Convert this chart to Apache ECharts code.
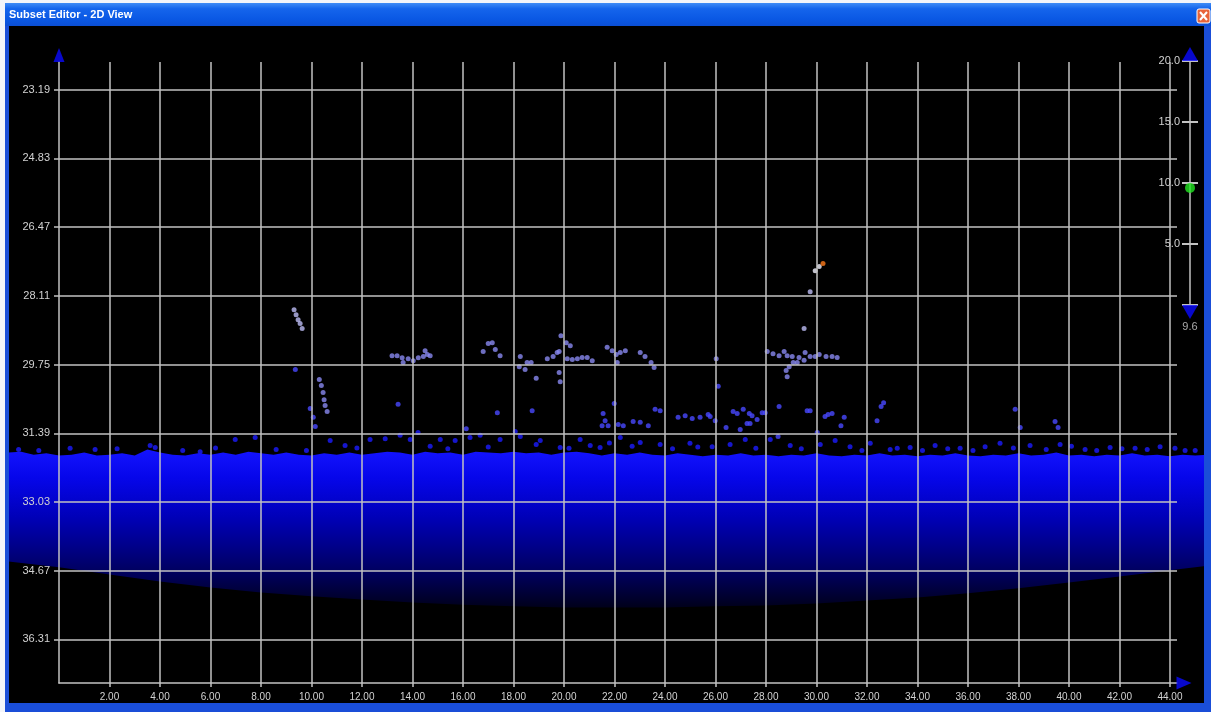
<!DOCTYPE html>
<html>
<head>
<meta charset="utf-8">
<title>Subset Editor - 2D View</title>
<script src="https://cdn.jsdelivr.net/npm/echarts@6/dist/echarts.min.js"></script>
<style>
  html, body { margin: 0; padding: 0; background: #fff; overflow: hidden; }
  #chart { width: 1211px; height: 712px; }
</style>
</head>
<body>
<div id="chart"></div>
<script>
// ---- axis ticks ----
const xTicks = [2, 4, 6, 8, 10, 12, 14, 16, 18, 20, 22, 24, 26, 28, 30, 32, 34, 36, 38, 40, 42, 44];
const depthTicks = [23.19, 24.83, 26.47, 28.11, 29.75, 31.39, 33.03, 34.67, 36.31];
const depthRange = [22.53, 37.35];
const distanceMax = 44.28;

// ---- seabed: upper surface of the dense return layer [distance, depth] ----
const seabedSurface = [
  [-2.0, 31.85], [-1.5, 31.83], [-1.0, 31.90], [-0.5, 31.87], [0.0, 31.92], [0.5, 31.90],
  [1.0, 31.85], [1.5, 31.92], [2.0, 31.90], [2.5, 31.87], [3.0, 31.92], [3.5, 31.78],
  [4.0, 31.85], [4.5, 31.90], [5.0, 31.92], [5.5, 31.87], [6.0, 31.90], [6.5, 31.85],
  [7.0, 31.90], [7.5, 31.83], [8.0, 31.87], [8.5, 31.90], [9.0, 31.85], [9.5, 31.90],
  [10.0, 31.92], [10.5, 31.87], [11.0, 31.90], [11.5, 31.85], [12.0, 31.90], [12.5, 31.87],
  [13.0, 31.83], [13.5, 31.85], [14.0, 31.90], [14.5, 31.83], [15.0, 31.87], [15.5, 31.85],
  [16.0, 31.90], [16.5, 31.83], [17.0, 31.85], [17.5, 31.87], [18.0, 31.83], [18.5, 31.87],
  [19.0, 31.85], [19.5, 31.90], [20.0, 31.85], [20.5, 31.83], [21.0, 31.87], [21.5, 31.92],
  [22.0, 31.87], [22.5, 31.90], [23.0, 31.85], [23.5, 31.90], [24.0, 31.92], [24.5, 31.87],
  [25.0, 31.90], [25.5, 31.94], [26.0, 31.90], [26.5, 31.92], [27.0, 31.87], [27.5, 31.92],
  [28.0, 31.90], [28.5, 31.94], [29.0, 31.90], [29.5, 31.92], [30.0, 31.87], [30.5, 31.92],
  [31.0, 31.94], [31.5, 31.90], [32.0, 31.92], [32.5, 31.87], [33.0, 31.92], [33.5, 31.90],
  [34.0, 31.94], [34.5, 31.90], [35.0, 31.92], [35.5, 31.87], [36.0, 31.92], [36.5, 31.94],
  [37.0, 31.90], [37.5, 31.92], [38.0, 31.87], [38.5, 31.92], [39.0, 31.90], [39.5, 31.85],
  [40.0, 31.92], [40.5, 31.90], [41.0, 31.94], [41.5, 31.90], [42.0, 31.92], [42.5, 31.87],
  [43.0, 31.92], [43.5, 31.90], [44.0, 31.94], [44.5, 31.90], [45.0, 31.92], [45.5, 31.90]
];

// ---- seabed: lower limit where the return fades out [distance, depth] ----
const seabedBase = [
  [-2.0, 34.45], [0.0, 34.59], [2.0, 34.76], [4.0, 34.93], [6.0, 35.07], [8.0, 35.19],
  [10.0, 35.28], [12.0, 35.36], [14.0, 35.43], [16.0, 35.48], [18.0, 35.52], [20.0, 35.55],
  [22.0, 35.55], [24.0, 35.55], [26.0, 35.52], [28.0, 35.50], [30.0, 35.45], [32.0, 35.38],
  [34.0, 35.31], [36.0, 35.21], [38.0, 35.09], [40.0, 34.95], [42.0, 34.81], [44.0, 34.66],
  [45.5, 34.55]
];

// ---- loose returns just above the seabed surface ----
const surfaceSpeckle = [
  [0.44, 31.75], [1.43, 31.78], [3.61, 31.68], [3.81, 31.73], [5.59, 31.83], [6.98, 31.54],
  [7.77, 31.49], [10.74, 31.56], [11.33, 31.68], [12.32, 31.54], [12.92, 31.52], [13.51, 31.44],
  [13.91, 31.54], [14.22, 31.37], [15.10, 31.54], [15.69, 31.56], [16.28, 31.49], [16.68, 31.44],
  [17.47, 31.54], [18.07, 31.35], [18.27, 31.47], [19.06, 31.56], [19.85, 31.73], [20.64, 31.54],
  [21.04, 31.68], [21.43, 31.73], [22.23, 31.49], [23.02, 31.61], [23.81, 31.66], [24.99, 31.63],
  [25.87, 31.71], [26.58, 31.66], [27.18, 31.54], [28.17, 31.54], [28.96, 31.68], [30.15, 31.66],
  [30.74, 31.56], [31.33, 31.71], [32.13, 31.63], [32.92, 31.78], [33.71, 31.73], [34.70, 31.68],
  [35.69, 31.75], [36.68, 31.71], [37.27, 31.63], [38.46, 31.68], [39.65, 31.66], [40.64, 31.78],
  [41.63, 31.73], [42.62, 31.75], [43.61, 31.71], [44.60, 31.80],
  [-1.60, 31.78], [-0.80, 31.80], [2.30, 31.76], [4.90, 31.80], [6.20, 31.74], [8.60, 31.78],
  [9.80, 31.80], [11.80, 31.74], [14.70, 31.70], [15.40, 31.76], [17.00, 31.72], [18.90, 31.66],
  [20.20, 31.75], [21.80, 31.62], [22.70, 31.70], [24.30, 31.76], [25.30, 31.72], [27.60, 31.75],
  [29.40, 31.76], [31.80, 31.80], [33.20, 31.75], [34.20, 31.80], [35.20, 31.76], [36.20, 31.80],
  [37.80, 31.74], [39.10, 31.78], [40.10, 31.70], [41.10, 31.80], [42.10, 31.76], [43.10, 31.78],
  [44.20, 31.75], [45.00, 31.80]
];

// ---- weak mid-water targets (deeper, blue) ----
const weakTargets = [
  [9.36, 29.87], [9.95, 30.80], [10.07, 31.01], [10.15, 31.23], [13.43, 30.70], [16.13, 31.28],
  [17.36, 30.90], [18.74, 30.85], [21.99, 30.68], [21.55, 30.92], [21.63, 31.09], [21.51, 31.21],
  [21.75, 31.21], [22.15, 31.18], [22.35, 31.21], [22.74, 31.11], [23.02, 31.13], [23.34, 31.21],
  [23.61, 30.82], [23.81, 30.85], [24.52, 31.01], [24.80, 30.97], [25.08, 31.04], [25.39, 31.01],
  [25.71, 30.94], [25.79, 30.99], [25.99, 31.09], [26.70, 30.87], [26.86, 30.92], [27.10, 30.82],
  [27.34, 30.92], [27.45, 30.97], [27.85, 30.90], [27.97, 30.90], [28.52, 30.75], [27.25, 31.16],
  [27.37, 31.16], [27.65, 31.06], [26.42, 31.25], [26.98, 31.30], [29.63, 30.85], [29.75, 30.85],
  [30.34, 30.99], [30.46, 30.94], [30.62, 30.92], [31.10, 31.01], [30.97, 31.21], [32.40, 31.09],
  [32.56, 30.75], [32.66, 30.66], [30.03, 31.37], [28.48, 31.47], [37.87, 30.82], [38.07, 31.25],
  [39.45, 31.11], [39.57, 31.25], [26.11, 30.27]
];

// ---- mid-water echo traces (lavender) ----
const echoTargets = [
  [10.31, 30.11], [10.39, 30.25], [10.46, 30.42], [10.50, 30.59], [10.54, 30.73], [10.62, 30.87],
  [13.19, 29.54], [13.39, 29.54], [13.59, 29.59], [13.63, 29.70], [13.83, 29.61], [14.03, 29.66],
  [14.23, 29.59], [14.43, 29.56], [14.59, 29.51], [14.50, 29.42], [14.70, 29.54],
  [16.80, 29.44], [17.00, 29.25], [17.16, 29.23], [17.28, 29.39], [17.47, 29.54],
  [18.27, 29.56], [18.54, 29.70], [18.70, 29.70], [18.23, 29.80], [18.46, 29.87], [18.90, 30.08],
  [19.34, 29.61], [19.57, 29.56], [19.73, 29.46], [19.81, 29.44], [19.88, 29.06], [20.09, 29.23],
  [20.25, 29.30], [20.13, 29.61], [20.33, 29.63], [20.53, 29.61], [20.72, 29.58], [20.92, 29.58],
  [21.12, 29.66], [19.81, 29.94], [19.85, 30.16],
  [21.71, 29.34], [21.91, 29.42], [22.07, 29.51], [22.23, 29.46], [22.43, 29.42], [22.11, 29.70],
  [23.02, 29.46], [23.21, 29.56], [23.45, 29.70], [23.57, 29.82], [26.03, 29.61],
  [28.05, 29.44], [28.28, 29.49], [28.52, 29.54], [28.72, 29.44], [28.84, 29.54], [29.04, 29.56],
  [29.31, 29.58], [29.55, 29.46], [29.75, 29.56], [29.95, 29.56], [30.11, 29.51], [30.38, 29.56],
  [30.62, 29.56], [30.82, 29.58], [29.08, 29.70], [29.24, 29.70], [29.51, 29.65], [28.92, 29.80],
  [28.80, 29.89], [28.84, 30.04]
];

// ---- strongest (pale) returns ----
const paleTargets = [
  [9.31, 28.44], [9.39, 28.56], [9.47, 28.68], [9.55, 28.77], [9.63, 28.89],
  [29.51, 28.89], [29.75, 28.01]
];
const whiteTargets = [[29.95, 27.51], [30.11, 27.41]];
const selectedTarget = [[30.26, 27.34]];

// ---- threshold slider ----
const sliderRange = [0, 20];
const sliderValue = 9.6;

const gridGray = '#c2c2c2';
const textGray = '#d2d2d2';
const arrowBlue = '#0a0aff';
const fontFamily = '"Liberation Sans", "DejaVu Sans", sans-serif';

const chart = echarts.init(document.getElementById('chart'), null, { renderer: 'canvas' });

// seabed layer: surface line on top, fade-out line below, filled with a depth gradient
function renderSeabed(params, api) {
  const pts = [];
  for (let i = 0; i < seabedSurface.length; i++) pts.push(api.coord(seabedSurface[i]));
  for (let i = seabedBase.length - 1; i >= 0; i--) pts.push(api.coord(seabedBase[i]));
  const yTop = api.coord([0, 31.75])[1];
  const yBot = api.coord([0, 35.65])[1];
  const fill = new echarts.graphic.LinearGradient(0, yTop, 0, yBot, [
    { offset: 0.00, color: '#1414ff' },
    { offset: 0.18, color: '#0606ea' },
    { offset: 0.42, color: '#0000b8' },
    { offset: 0.62, color: '#000084' },
    { offset: 0.80, color: '#000052' },
    { offset: 1.00, color: '#000012' }
  ], true);
  return { type: 'polygon', shape: { points: pts }, style: { fill: fill } };
}

function targetSeries(name, data, color, size) {
  return {
    name: name, type: 'scatter', xAxisIndex: 0, yAxisIndex: 0, data: data,
    symbol: 'circle', symbolSize: size, clip: false, z: 3,
    itemStyle: { color: color }, silent: true
  };
}

const option = {
  backgroundColor: '#000',
  animation: false,
  grid: [
    { left: 59, top: 62, width: 1118, height: 621 },
    { left: 1182, top: 61, width: 16, height: 244 }
  ],
  xAxis: [
    {
      type: 'value', gridIndex: 0, min: 0, max: distanceMax, z: 5,
      axisLine: { show: true, onZero: false, lineStyle: { color: gridGray, width: 1.5 } },
      axisTick: { show: true, customValues: xTicks, length: 4, lineStyle: { color: gridGray, width: 1.5 } },
      axisLabel: {
        customValues: xTicks, formatter: v => v.toFixed(2), margin: 9,
        color: textGray, fontFamily: fontFamily, fontSize: 10
      },
      splitLine: { show: true, lineStyle: { color: gridGray, width: 1.5 } }
    },
    { type: 'value', gridIndex: 1, min: -1, max: 1, show: false }
  ],
  yAxis: [
    {
      type: 'value', gridIndex: 0, inverse: true, min: depthRange[0], max: depthRange[1], z: 5,
      axisLine: { show: true, onZero: false, lineStyle: { color: gridGray, width: 1.5 } },
      axisTick: { show: true, customValues: depthTicks, length: 5, lineStyle: { color: gridGray, width: 1.5 } },
      axisLabel: {
        customValues: depthTicks, formatter: v => v.toFixed(2), margin: 9,
        color: textGray, fontFamily: fontFamily, fontSize: 11
      },
      splitLine: { show: true, lineStyle: { color: gridGray, width: 1.5 } }
    },
    {
      type: 'value', gridIndex: 1, min: sliderRange[0], max: sliderRange[1], interval: 5, offset: -8, z: 5,
      axisLine: { show: true, lineStyle: { color: gridGray, width: 1.5 } },
      axisTick: { show: false },
      axisLabel: {
        formatter: v => (v === 0 ? '' : v.toFixed(1)), margin: 10,
        color: textGray, fontFamily: fontFamily, fontSize: 11
      },
      splitLine: { show: true, lineStyle: { color: gridGray, width: 2 } }
    }
  ],
  series: [
    {
      name: 'seabed', type: 'custom', xAxisIndex: 0, yAxisIndex: 0, clip: false, z: 1, silent: true,
      renderItem: renderSeabed, data: [seabedSurface[10]]
    },
    targetSeries('speckle', surfaceSpeckle, '#1c1cff', 5),
    targetSeries('weak', weakTargets, '#4848ff', 5),
    targetSeries('echo', echoTargets, '#8888f0', 5),
    targetSeries('pale', paleTargets, '#bcbcf4', 5),
    targetSeries('white', whiteTargets, '#f2f2ff', 5),
    targetSeries('selected', selectedTarget, '#ff7a1a', 5),
    {
      name: 'depthArrow', type: 'scatter', xAxisIndex: 0, yAxisIndex: 0, clip: false, z: 6, silent: true,
      data: [[0, depthRange[0]]], symbol: 'triangle', symbolSize: [11, 14], symbolOffset: [0, -7],
      itemStyle: { color: arrowBlue }
    },
    {
      name: 'distanceArrow', type: 'scatter', xAxisIndex: 0, yAxisIndex: 0, clip: false, z: 6, silent: true,
      data: [[distanceMax, depthRange[1]]], symbol: 'triangle', symbolSize: [13, 15], symbolRotate: -90,
      symbolOffset: [7, 0], itemStyle: { color: arrowBlue }
    },
    {
      name: 'sliderTop', type: 'scatter', xAxisIndex: 1, yAxisIndex: 1, clip: false, z: 6, silent: true,
      data: [[0, sliderRange[1]]], symbol: 'triangle', symbolSize: [16, 14], symbolOffset: [0, -7],
      itemStyle: { color: arrowBlue }
    },
    {
      name: 'sliderBottom', type: 'scatter', xAxisIndex: 1, yAxisIndex: 1, clip: false, z: 6, silent: true,
      data: [[0, sliderRange[0]]], symbol: 'triangle', symbolSize: [16, 14], symbolRotate: 180,
      symbolOffset: [0, 7], itemStyle: { color: arrowBlue },
      label: {
        show: true, position: 'bottom', distance: 2, formatter: () => sliderValue.toFixed(1),
        color: textGray, fontFamily: fontFamily, fontSize: 11
      }
    },
    {
      name: 'sliderKnob', type: 'scatter', xAxisIndex: 1, yAxisIndex: 1, clip: false, z: 7, silent: true,
      data: [[0, sliderValue]], symbol: 'circle', symbolSize: 10,
      itemStyle: { color: '#22e622' }
    }
  ],
  graphic: [
    // window frame
    { type: 'rect', z: 100, shape: { x: 0, y: 0, width: 1211, height: 3 }, style: { fill: '#f3f5fa' } },
    { type: 'rect', z: 100, shape: { x: 0, y: 0, width: 5, height: 712 }, style: { fill: '#f3f5fa' } },
    { type: 'rect', z: 100, shape: { x: 5, y: 3, width: 4, height: 709 }, style: { fill: '#1a4ed8' } },
    { type: 'rect', z: 100, shape: { x: 1204, y: 3, width: 7, height: 709 }, style: { fill: '#1a4ed8' } },
    { type: 'rect', z: 100, shape: { x: 5, y: 703, width: 1206, height: 9 }, style: { fill: '#1a4ed8' } },
    {
      type: 'rect', z: 100, shape: { x: 5, y: 3, width: 1206, height: 23 },
      style: {
        fill: new echarts.graphic.LinearGradient(0, 0, 0, 1, [
          { offset: 0, color: '#3f8cf6' }, { offset: 0.25, color: '#1565ec' },
          { offset: 0.7, color: '#0a58e4' }, { offset: 1, color: '#0b4fd6' }
        ])
      }
    },
    {
      type: 'text', z: 101, left: 9, top: 9,
      style: {
        text: 'Subset Editor - 2D View', fill: '#ffffff', font: 'bold 11px "Liberation Sans", sans-serif'
      }
    },
    {
      type: 'rect', z: 101, shape: { x: 1197, y: 9, width: 13, height: 14, r: 2 },
      style: { fill: '#e8643a', stroke: '#ffffff', lineWidth: 1 }
    },
    { type: 'line', z: 102, shape: { x1: 1200, y1: 12, x2: 1207, y2: 20 }, style: { stroke: '#fff', lineWidth: 2 } },
    { type: 'line', z: 102, shape: { x1: 1207, y1: 12, x2: 1200, y2: 20 }, style: { stroke: '#fff', lineWidth: 2 } }
  ]
};

chart.setOption(option);
</script>
</body>
</html>
